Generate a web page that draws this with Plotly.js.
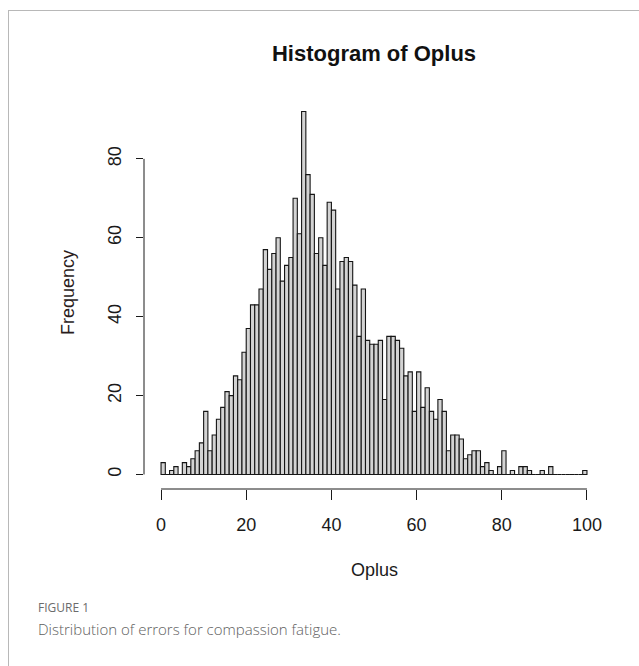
<!DOCTYPE html>
<html>
<head>
<meta charset="utf-8">
<script src="https://cdn.plot.ly/plotly-3.0.1.min.js"></script>
<style>
  html, body { margin: 0; padding: 0; background: #ffffff; }
  #wrap { position: relative; width: 639px; height: 666px; overflow: hidden; }
  #chart { width: 639px; height: 666px; }
  #frame { position: absolute; left: 8px; top: 10px; width: 700px; height: 700px;
           border-left: 1.5px solid #b8b8b8; border-top: 1.5px solid #b8b8b8;
           pointer-events: none; box-sizing: border-box; }
</style>
</head>
<body>
<div id="wrap">
  <div id="chart"></div>
  <div id="frame"></div>
</div>
<script>
// Histogram of Oplus: bins of width 1 from 0 to 100
const binStart = 0;
const binWidth = 1;
const counts = [
  3, 0, 1, 2, 0, 3, 2, 4, 6, 8,
  16, 6, 10, 14, 17, 21, 20, 25, 24, 31,
  37, 43, 43, 47, 57, 52, 56, 60, 49, 53,
  55, 70, 61, 92, 76, 71, 56, 60, 53, 69,
  67, 47, 54, 55, 54, 48, 35, 47, 34, 33,
  33, 34, 19, 35, 35, 34, 32, 25, 26, 16,
  26, 17, 22, 16, 14, 19, 16, 6, 10, 10,
  9, 4, 5, 6, 6, 2, 3, 1, 0, 2,
  6, 0, 1, 0, 2, 2, 1, 0, 0, 1,
  0, 2, 0, 0, 0, 0, 0, 0, 0, 1
];
const xTicks = [0, 20, 40, 60, 80, 100];
const yTicks = [0, 20, 40, 60, 80];

const mids = counts.map((c, i) => binStart + (i + 0.5) * binWidth);

const trace = {
  type: 'bar',
  x: mids,
  y: counts,
  width: binWidth,
  marker: { color: '#d3d3d3', line: { color: '#151515', width: 1.1 } },
  hoverinfo: 'x+y'
};

const axisFont = { family: 'Liberation Sans, Arial, sans-serif', size: 18, color: '#1a1a1a' };

const layout = {
  width: 639,
  height: 666,
  margin: { l: 144, r: 35, t: 97, b: 177 },
  paper_bgcolor: '#ffffff',
  plot_bgcolor: '#ffffff',
  showlegend: false,
  bargap: 0,
  title: {
    text: '<b>Histogram of Oplus</b>',
    font: { family: 'Liberation Sans, Arial, sans-serif', size: 22, color: '#111' },
    x: 374 / 639, xref: 'container', xanchor: 'center',
    y: 1 - 53 / 666, yref: 'container', yanchor: 'middle'
  },
  xaxis: {
    range: [-4, 104],
    tickvals: xTicks,
    ticktext: xTicks.map(String),
    ticks: 'outside', ticklen: 10, tickwidth: 1, tickcolor: '#1a1a1a',
    showline: false, showgrid: false, zeroline: false,
    tickfont: axisFont,
    ticklabelstandoff: 9,
    fixedrange: true
  },
  yaxis: {
    range: [-3.68, 95.68],
    tickvals: yTicks,
    ticktext: yTicks.map(String),
    tickangle: -90,
    ticks: 'outside', ticklen: 7, tickwidth: 1, tickcolor: '#1a1a1a',
    showline: false, showgrid: false, zeroline: false,
    tickfont: axisFont,
    ticklabelstandoff: 8,
    fixedrange: true
  },
  shapes: [
    { type: 'line', xref: 'x', yref: 'paper', x0: xTicks[0], x1: xTicks[xTicks.length - 1], y0: 0, y1: 0,
      line: { color: '#1a1a1a', width: 1 } },
    { type: 'line', xref: 'paper', yref: 'y', x0: 0, x1: 0, y0: yTicks[0], y1: yTicks[yTicks.length - 1],
      line: { color: '#1a1a1a', width: 1 } }
  ],
  annotations: [
    { text: 'Oplus', xref: 'paper', yref: 'paper', x: 0.5, y: (489 - 570) / 392,
      xanchor: 'center', yanchor: 'middle', showarrow: false, font: axisFont },
    { text: 'Frequency', xref: 'paper', yref: 'paper', x: (68 - 144) / 460, y: 0.5, textangle: -90,
      xanchor: 'center', yanchor: 'middle', showarrow: false,
      font: { family: 'Liberation Sans, Arial, sans-serif', size: 18, color: '#2a1c1c' } },
    { text: 'FIGURE 1', xref: 'paper', yref: 'paper', x: (36 - 144) / 460, y: (489 - 607) / 392,
      xanchor: 'left', yanchor: 'middle', showarrow: false,
      font: { family: 'Open Sans, Noto Sans, sans-serif', size: 12, color: '#6b6b6b' } },
    { text: 'Distribution of errors for compassion fatigue.', xref: 'paper', yref: 'paper',
      x: (36 - 144) / 460, y: (489 - 629) / 392,
      xanchor: 'left', yanchor: 'middle', showarrow: false,
      font: { family: 'Open Sans, Noto Sans, sans-serif', size: 15, color: '#5e5e5e', weight: 300 } }
  ]
};

Plotly.newPlot('chart', [trace], layout, { displayModeBar: false, staticPlot: true });
</script>
</body>
</html>
